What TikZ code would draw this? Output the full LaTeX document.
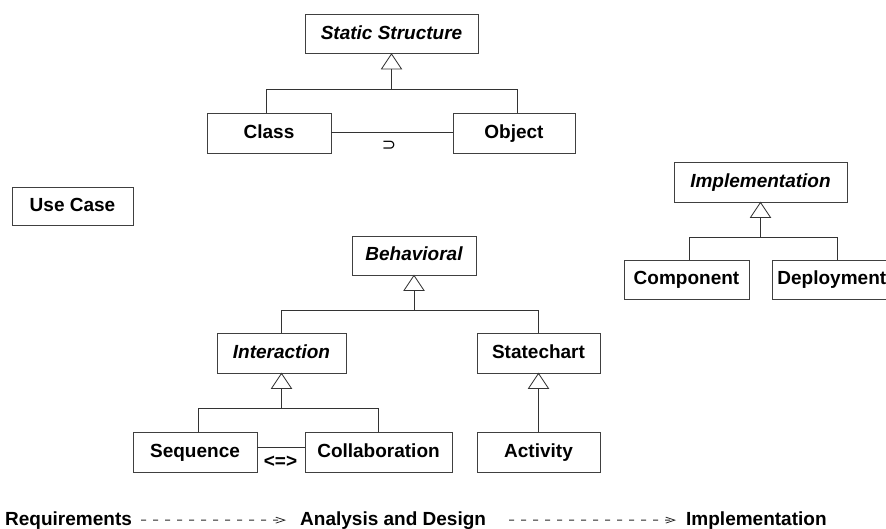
\documentclass[tikz,border=0pt]{standalone}
\usepackage{fontspec}
\setmainfont{Liberation Sans}
\newfontfamily\symfont{DejaVu Sans}
\usetikzlibrary{arrows.meta,calc}

\tikzset{
  x=1pt, y=-1pt,
  lbl/.style={font=\bfseries\fontsize{19}{22}\selectfont},
  cls/.style={lbl, draw=black!75, line width=0.9pt, inner sep=0pt, fill=white,
              text height=14pt, text depth=4pt},
  abstract/.style={cls, font=\bfseries\itshape\fontsize{19}{22}\selectfont},
  link/.style={draw=black!80, line width=0.9pt},
  gen/.style={draw=black!80, line width=0.8pt, fill=white},
  dep/.style={draw=black!85, line width=0.85pt, dash pattern=on 5pt off 7pt,
              -{Straight Barb[length=9pt,width=6pt,line width=0.8pt]}},
}

\begin{document}
\begin{tikzpicture}
\useasboundingbox (0,0) rectangle (886,528);
\clip (0,0) rectangle (886,528);

% --- static structure hierarchy ---
\node[abstract, minimum width=173pt, minimum height=39pt] (ss) at (391.5,34) {Static Structure};
\node[cls, minimum width=124pt, minimum height=40pt] (class) at (269,133) {Class};
\node[cls, minimum width=122pt, minimum height=40pt] (object) at (514,133) {Object};

% --- use case ---
\node[cls, minimum width=121pt, minimum height=38pt] (uc) at (72.5,206) {Use Case};

% --- implementation hierarchy ---
\node[abstract, minimum width=173pt, minimum height=40pt] (impl) at (760.5,182) {Implementation};
\node[cls, minimum width=125pt, minimum height=39pt] (comp) at (686.5,279.5) {Component};
\node[cls, minimum height=39pt, text width=120pt, align=left, inner xsep=5pt,
      anchor=west] (depl) at (772,279.5) {Deployment};

% --- behavioral hierarchy ---
\node[abstract, minimum width=124pt, minimum height=39pt] (beh) at (414,255.5) {Behavioral};
\node[abstract, minimum width=129pt, minimum height=40pt] (inter) at (281.5,353) {Interaction};
\node[cls, minimum width=123pt, minimum height=40pt] (state) at (538.5,353) {Statechart};
\node[cls, minimum width=124pt, minimum height=40pt] (seq) at (195,452) {Sequence};
\node[cls, minimum width=147pt, minimum height=40pt] (collab) at (378.5,452) {Collaboration};
\node[cls, minimum width=123pt, minimum height=40pt] (act) at (538.5,452) {Activity};

% --- generalization trees ---
\foreach \p in {ss,impl,beh,inter} {
  \draw[gen] (\p.south) -- ++(-10,15) -- ++(20,0) -- cycle;
  \draw[link] ($(\p.south)+(0,15)$) -- ($(\p.south)+(0,35)$) coordinate (j-\p);
}
\draw[link] ([xshift=-3pt]class.north) |- (j-ss) -| ([xshift=3pt]object.north);
\draw[link] ([xshift=2.5pt]comp.north) |- (j-impl) -| (depl.north);
\draw[link] (inter.north) |- (j-beh) -| (state.north);
\draw[link] ([xshift=3pt]seq.north) |- (j-inter) -| (collab.north);

\draw[gen] (state.south) -- ++(-10,15) -- ++(20,0) -- cycle;
\draw[link] ($(state.south)+(0,15)$) -- (act.north);

% --- associations ---
\draw[link] ([yshift=1pt]class.east) -- ([yshift=1pt]object.west);
\node[inner sep=0pt, font=\symfont\fontsize{17}{20}\selectfont] (sup) at (389,146) {⊃};
\draw[link] ([yshift=5pt]seq.east) -- ([yshift=5pt]collab.west);
\node[lbl, inner sep=0pt] (eqv) at (280.5,462) {<=>};

% --- process flow ---
\node[lbl, inner sep=0pt, anchor=base west] (req) at (5,525) {Requirements};
\node[lbl, inner sep=0pt, anchor=base west] (ad) at (300,525) {Analysis and Design};
\node[lbl, inner sep=0pt, anchor=base west] (im) at (686,525) {Implementation};
\draw[dep] ([xshift=9pt]req.east) -- ([xshift=-14pt]ad.west);
\draw[dep] ([xshift=23pt]ad.east) -- ([xshift=-10pt]im.west);
\end{tikzpicture}
\end{document}
